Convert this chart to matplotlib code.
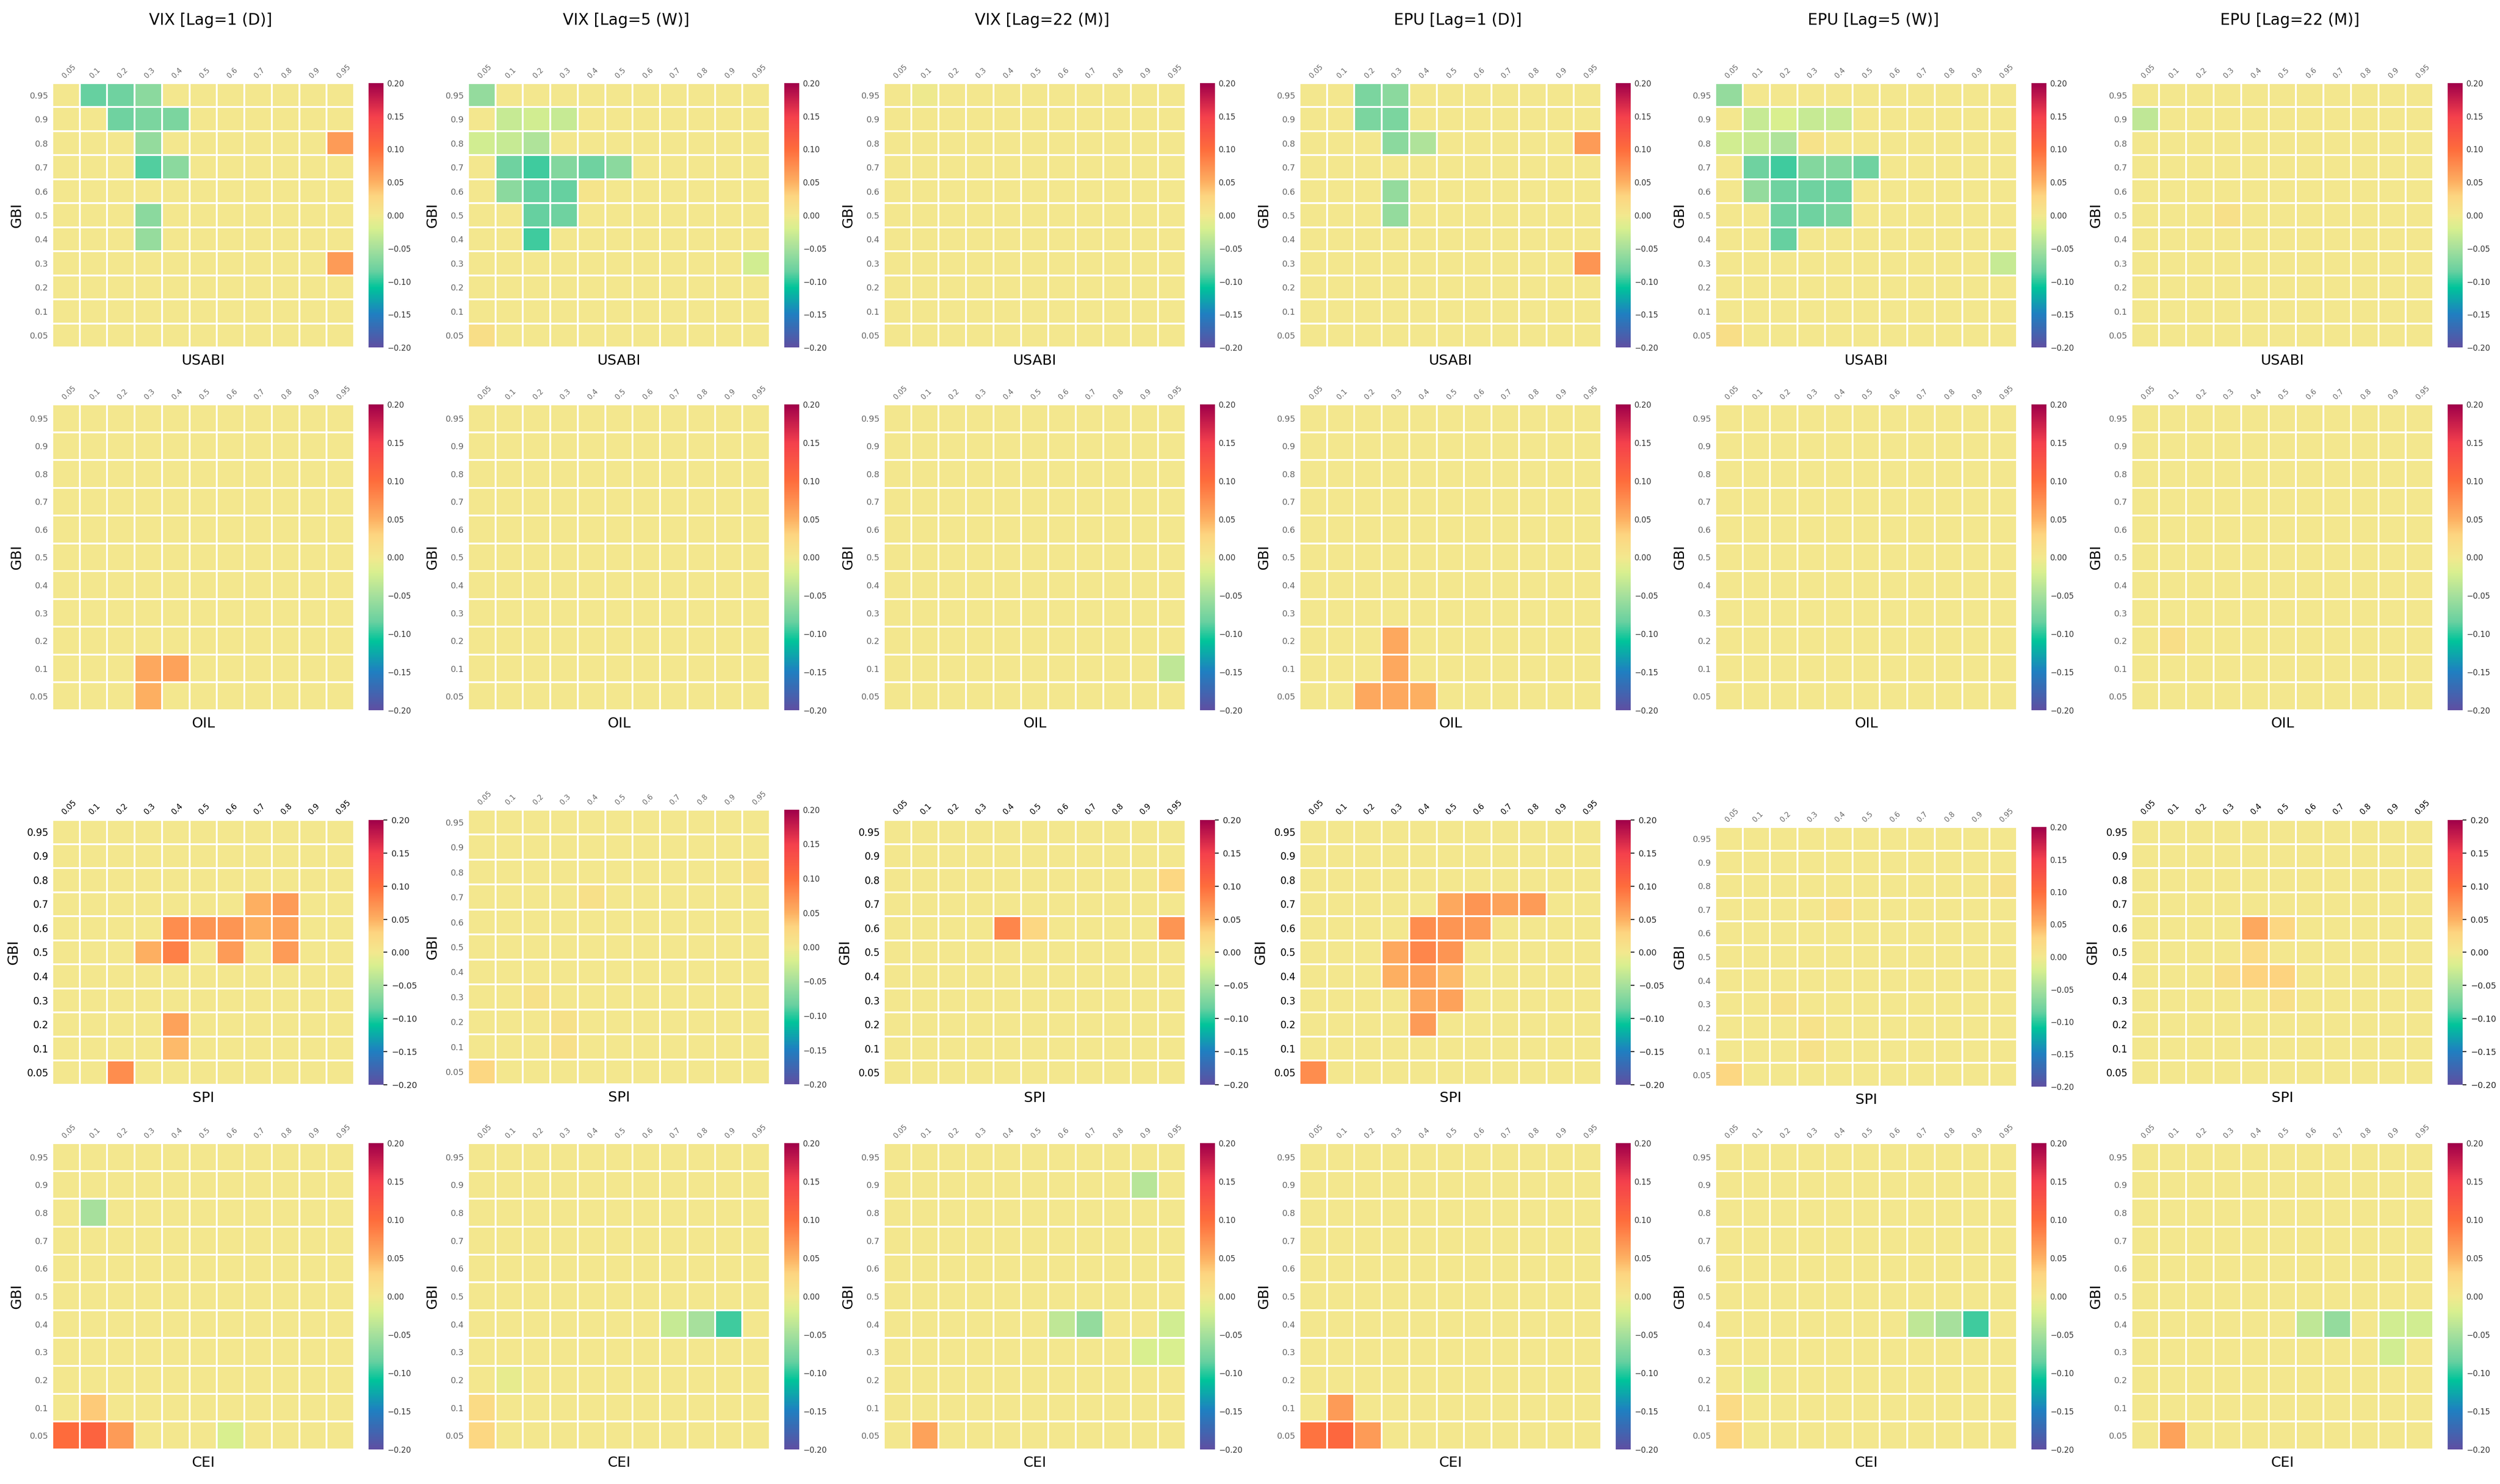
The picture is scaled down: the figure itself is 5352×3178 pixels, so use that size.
import numpy as np
import matplotlib
matplotlib.use("Agg")
import matplotlib.pyplot as plt
from matplotlib.colors import LinearSegmentedColormap

# quantile axes
quantiles = [0.05, 0.1, 0.2, 0.3, 0.4, 0.5, 0.6, 0.7, 0.8, 0.9, 0.95]
q_labels = ["0.05", "0.1", "0.2", "0.3", "0.4", "0.5", "0.6", "0.7", "0.8", "0.9", "0.95"]
gbi_order = quantiles[::-1]
gbi_labels = q_labels[::-1]

titles = ["VIX [Lag=1 (D)]", "VIX [Lag=5 (W)]", "VIX [Lag=22 (M)]",
          "EPU [Lag=1 (D)]", "EPU [Lag=5 (W)]", "EPU [Lag=22 (M)]"]
row_vars = ["USABI", "OIL", "SPI", "CEI"]
cbar_ticks = [-0.20, -0.15, -0.10, -0.05, 0.00, 0.05, 0.10, 0.15, 0.20]
cbar_labels = ["\u22120.20", "\u22120.15", "\u22120.10", "\u22120.05", "0.00",
               "0.05", "0.10", "0.15", "0.20"]

# non-zero cells: (GBI quantile, x quantile, value); all other cells ~0
vix1_usabi = [(0.95, 0.1, -0.085), (0.95, 0.2, -0.08), (0.95, 0.3, -0.065),
              (0.9, 0.2, -0.08), (0.9, 0.3, -0.075), (0.9, 0.4, -0.075),
              (0.8, 0.3, -0.06), (0.8, 0.95, 0.065),
              (0.7, 0.3, -0.09), (0.7, 0.4, -0.065),
              (0.5, 0.3, -0.065), (0.4, 0.3, -0.058), (0.3, 0.95, 0.065)]
vix5_usabi = [(0.95, 0.05, -0.06),
              (0.9, 0.1, -0.03), (0.9, 0.2, -0.025), (0.9, 0.3, -0.03),
              (0.8, 0.05, -0.025), (0.8, 0.1, -0.03), (0.8, 0.2, -0.045),
              (0.7, 0.1, -0.08), (0.7, 0.2, -0.095), (0.7, 0.3, -0.07),
              (0.7, 0.4, -0.08), (0.7, 0.5, -0.065),
              (0.6, 0.1, -0.065), (0.6, 0.2, -0.085), (0.6, 0.3, -0.085), (0.6, 0.4, 0.005),
              (0.5, 0.2, -0.085), (0.5, 0.3, -0.08),
              (0.4, 0.2, -0.095), (0.3, 0.95, -0.025), (0.05, 0.05, 0.015)]
vix22_usabi = [(0.95, 0.1, -0.004)]
epu1_usabi = [(0.95, 0.2, -0.075), (0.95, 0.3, -0.065),
              (0.9, 0.2, -0.075), (0.9, 0.3, -0.075),
              (0.8, 0.3, -0.065), (0.8, 0.4, -0.045), (0.8, 0.95, 0.065),
              (0.6, 0.3, -0.06), (0.5, 0.3, -0.06), (0.3, 0.95, 0.07)]
epu5_usabi = [(0.95, 0.05, -0.06),
              (0.9, 0.1, -0.03), (0.9, 0.2, -0.02), (0.9, 0.3, -0.03), (0.9, 0.4, -0.03),
              (0.8, 0.05, -0.025), (0.8, 0.1, -0.03), (0.8, 0.2, -0.045), (0.8, 0.3, 0.008),
              (0.7, 0.1, -0.08), (0.7, 0.2, -0.095), (0.7, 0.3, -0.07),
              (0.7, 0.4, -0.07), (0.7, 0.5, -0.08),
              (0.6, 0.1, -0.06), (0.6, 0.2, -0.08), (0.6, 0.3, -0.08), (0.6, 0.4, -0.08),
              (0.5, 0.2, -0.08), (0.5, 0.3, -0.08), (0.5, 0.4, -0.075),
              (0.4, 0.2, -0.085), (0.3, 0.95, -0.03), (0.05, 0.05, 0.015)]
epu22_usabi = [(0.9, 0.05, -0.035), (0.5, 0.3, 0.012)]

vix1_oil = [(0.1, 0.3, 0.055), (0.1, 0.4, 0.06), (0.05, 0.3, 0.05)]
vix5_oil = []
vix22_oil = [(0.1, 0.95, -0.035)]
epu1_oil = [(0.2, 0.3, 0.055), (0.1, 0.3, 0.055),
            (0.05, 0.2, 0.055), (0.05, 0.3, 0.055), (0.05, 0.4, 0.05)]
epu5_oil = []
epu22_oil = [(0.2, 0.1, 0.015)]

vix1_spi = [(0.7, 0.7, 0.05), (0.7, 0.8, 0.065),
            (0.6, 0.4, 0.075), (0.6, 0.5, 0.07), (0.6, 0.6, 0.07), (0.6, 0.7, 0.05), (0.6, 0.8, 0.06),
            (0.5, 0.3, 0.05), (0.5, 0.4, 0.085), (0.5, 0.6, 0.065), (0.5, 0.8, 0.065),
            (0.2, 0.4, 0.06), (0.1, 0.4, 0.045), (0.05, 0.2, 0.075)]
vix5_spi = [(0.8, 0.95, 0.008), (0.7, 0.4, 0.012), (0.3, 0.2, 0.01),
            (0.2, 0.3, 0.01), (0.1, 0.3, 0.012), (0.05, 0.05, 0.025)]
vix22_spi = [(0.8, 0.95, 0.025), (0.6, 0.4, 0.08), (0.6, 0.5, 0.025), (0.6, 0.95, 0.07)]
epu1_spi = [(0.7, 0.5, 0.055), (0.7, 0.6, 0.07), (0.7, 0.7, 0.06), (0.7, 0.8, 0.065),
            (0.6, 0.4, 0.075), (0.6, 0.5, 0.07), (0.6, 0.6, 0.065),
            (0.5, 0.3, 0.055), (0.5, 0.4, 0.08), (0.5, 0.5, 0.07),
            (0.4, 0.3, 0.05), (0.4, 0.4, 0.06), (0.4, 0.5, 0.045),
            (0.3, 0.4, 0.055), (0.3, 0.5, 0.06), (0.2, 0.4, 0.065), (0.05, 0.05, 0.075)]
epu5_spi = [(0.8, 0.95, 0.01), (0.7, 0.4, 0.012), (0.3, 0.2, 0.01),
            (0.2, 0.3, 0.008), (0.1, 0.3, 0.01), (0.05, 0.05, 0.025)]
epu22_spi = [(0.6, 0.4, 0.055), (0.6, 0.5, 0.025), (0.5, 0.4, 0.02),
             (0.4, 0.3, 0.015), (0.4, 0.4, 0.03), (0.4, 0.5, 0.03), (0.3, 0.5, 0.012)]

vix1_cei = [(0.8, 0.1, -0.05), (0.1, 0.1, 0.035),
            (0.05, 0.05, 0.1), (0.05, 0.1, 0.11), (0.05, 0.2, 0.065), (0.05, 0.6, -0.02)]
vix5_cei = [(0.4, 0.7, -0.03), (0.4, 0.8, -0.05), (0.4, 0.9, -0.095),
            (0.2, 0.1, -0.008), (0.1, 0.05, 0.02), (0.05, 0.05, 0.025)]
vix22_cei = [(0.9, 0.9, -0.04), (0.4, 0.6, -0.035), (0.4, 0.7, -0.06), (0.4, 0.95, -0.025),
             (0.3, 0.9, -0.02), (0.3, 0.95, -0.02), (0.05, 0.1, 0.06)]
epu1_cei = [(0.1, 0.1, 0.065), (0.05, 0.05, 0.095), (0.05, 0.1, 0.105), (0.05, 0.2, 0.065)]
epu5_cei = [(0.4, 0.7, -0.035), (0.4, 0.8, -0.05), (0.4, 0.9, -0.095),
            (0.2, 0.1, -0.008), (0.1, 0.05, 0.02), (0.05, 0.05, 0.025)]
epu22_cei = [(0.4, 0.6, -0.035), (0.4, 0.7, -0.06), (0.4, 0.9, -0.025), (0.4, 0.95, -0.025),
             (0.3, 0.9, -0.025), (0.05, 0.1, 0.06)]

panels = [
    [vix1_usabi, vix5_usabi, vix22_usabi, epu1_usabi, epu5_usabi, epu22_usabi],
    [vix1_oil, vix5_oil, vix22_oil, epu1_oil, epu5_oil, epu22_oil],
    [vix1_spi, vix5_spi, vix22_spi, epu1_spi, epu5_spi, epu22_spi],
    [vix1_cei, vix5_cei, vix22_cei, epu1_cei, epu5_cei, epu22_cei],
]

# colour map (Spectral-like, with the muted yellow at zero)
stops = [(-0.20, "#5e4fa2"), (-0.15, "#1f7fc1"), (-0.11, "#00c49a"), (-0.085, "#68d0a0"),
         (-0.05, "#a6e09c"), (-0.02, "#d8ef8f"), (0.00, "#f3e88e"), (0.03, "#fdd480"),
         (0.05, "#fdb062"), (0.10, "#fe6c3c"), (0.15, "#f4404c"), (0.20, "#a0004a")]
cmap = LinearSegmentedColormap.from_list(
    "spec", [((v + 0.2) / 0.4, c) for v, c in stops])

# ---- layout in pixels ----
W, H = 5352, 3178
col_left = [112, 1002, 1892, 2782, 3672, 4563]
hm_w = 646
cb_dx, cb_w = 677, 32
row_top = [178, 866, 1756, 2448]
row_bot = [744, 1521, 2323, 3104]
shift = {(2, 1): (1734, 2322), (2, 4): (1771, 2327)}
dark_panels = {(2, 0), (2, 2), (2, 3), (2, 5)}


def rect(x0, y0, x1, y1):
    return [x0 / W, 1 - y1 / H, (x1 - x0) / W, (y1 - y0) / H]


fig = plt.figure(figsize=(W / 200, H / 200), dpi=200)

for r in range(4):
    for c in range(6):
        top, bot = shift.get((r, c), (row_top[r], row_bot[r]))
        x0 = col_left[c]
        dark = (r, c) in dark_panels

        grid = np.zeros((11, 11))
        for g, x, v in panels[r][c]:
            grid[gbi_order.index(g), quantiles.index(x)] = v

        ax = fig.add_axes(rect(x0, top, x0 + hm_w, bot))
        mesh = ax.pcolormesh(grid, cmap=cmap, vmin=-0.2, vmax=0.2,
                             edgecolors="white", linewidth=1.3)
        ax.set_xlim(0, 11)
        ax.set_ylim(11, 0)
        for s in ax.spines.values():
            s.set_visible(False)

        tick_col = "black" if dark else "#666666"
        ax.xaxis.tick_top()
        ax.set_xticks(np.arange(11) + 0.5)
        ax.set_xticklabels(q_labels, rotation=45, ha="left", rotation_mode="anchor",
                           fontsize=6 if dark else 5.5, color=tick_col)
        ax.set_yticks(np.arange(11) + 0.5)
        ax.set_yticklabels(gbi_labels, fontsize=7.5 if dark else 6.5, color=tick_col)
        ax.tick_params(length=0, pad=3)
        ax.set_xlabel(row_vars[r], fontsize=11, labelpad=5)
        ax.set_ylabel("GBI", fontsize=11, labelpad=5)

        cax = fig.add_axes(rect(x0 + cb_dx, top, x0 + cb_dx + cb_w, bot))
        cb = fig.colorbar(mesh, cax=cax, ticks=cbar_ticks)
        cb.set_ticklabels(cbar_labels)
        cb.outline.set_visible(False)
        cb.ax.tick_params(labelsize=6.5 if dark else 6, colors="#222222" if dark else "#333333",
                          length=3 if dark else 0, pad=3)

        if r == 0:
            fig.text((x0 + hm_w / 2 + 16) / W, 1 - 43 / H, titles[c],
                     ha="center", va="center", fontsize=12)

fig.savefig("out.png", dpi=200, facecolor="white")
